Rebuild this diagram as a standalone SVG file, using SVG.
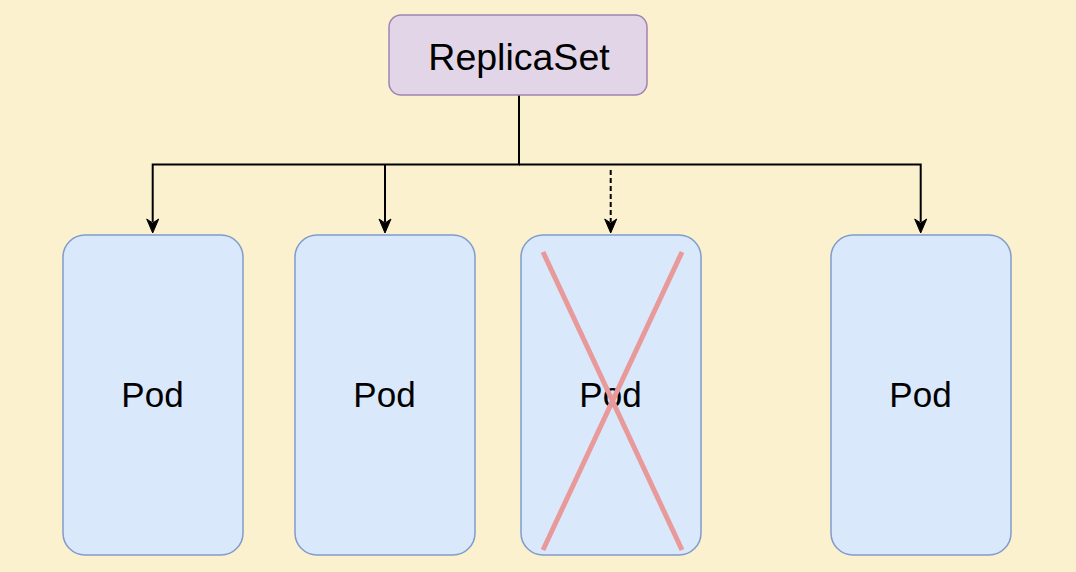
<svg xmlns="http://www.w3.org/2000/svg" width="1076" height="572" viewBox="0 0 1076 572">
<defs>
<style>
.pod rect{fill:#dae8fc;stroke:#7f9ccb;stroke-width:1.5}
.lbl{font-family:"Liberation Sans",Arial,sans-serif;font-size:35px;fill:#000;text-anchor:middle}
.conn{fill:none;stroke:#000;stroke-width:2}
.head{fill:#000;stroke:#000;stroke-width:1}
</style>
</defs>
<rect width="1076" height="572" fill="#fcf1cf"/>
<g id="connectors">
<path class="conn" d="M519,95 V164.5 H152.7 V222"/>
<path class="conn" d="M385,164.5 V222"/>
<path class="conn" d="M519,164.5 H920.7 V222"/>
<path class="conn" d="M610.7,170 V222" stroke-dasharray="5 3"/>
<path class="head" d="M146.7,219 L152.7,233 L158.7,219 L152.7,223 Z"/>
<path class="head" d="M379,219 L385,233 L391,219 L385,223 Z"/>
<path class="head" d="M604.7,219 L610.7,233 L616.7,219 L610.7,223 Z"/>
<path class="head" d="M914.7,219 L920.7,233 L926.7,219 L920.7,223 Z"/>
</g>
<g id="replicaset">
<rect x="389" y="15" width="258" height="80" rx="12" fill="#e1d5e7" stroke="#a083b1" stroke-width="1.5"/>
<text class="lbl" x="519" y="70" style="font-size:37.5px">ReplicaSet</text>
</g>
<g id="pod1" class="pod">
<rect x="63" y="235" width="180" height="320" rx="22"/>
<text class="lbl" x="152.5" y="407">Pod</text>
</g>
<g id="pod2" class="pod">
<rect x="295" y="235" width="180" height="320" rx="22"/>
<text class="lbl" x="384.5" y="407">Pod</text>
</g>
<g id="pod3" class="pod">
<rect x="521" y="235" width="180" height="320" rx="22"/>
<text class="lbl" x="610.5" y="407">Pod</text>
<g stroke="#e89a9b" stroke-width="5">
<line x1="543" y1="252" x2="682" y2="550"/>
<line x1="682" y1="252" x2="543" y2="550"/>
</g>
</g>
<g id="pod4" class="pod">
<rect x="831" y="235" width="180" height="320" rx="22"/>
<text class="lbl" x="920.5" y="407">Pod</text>
</g>
</svg>
